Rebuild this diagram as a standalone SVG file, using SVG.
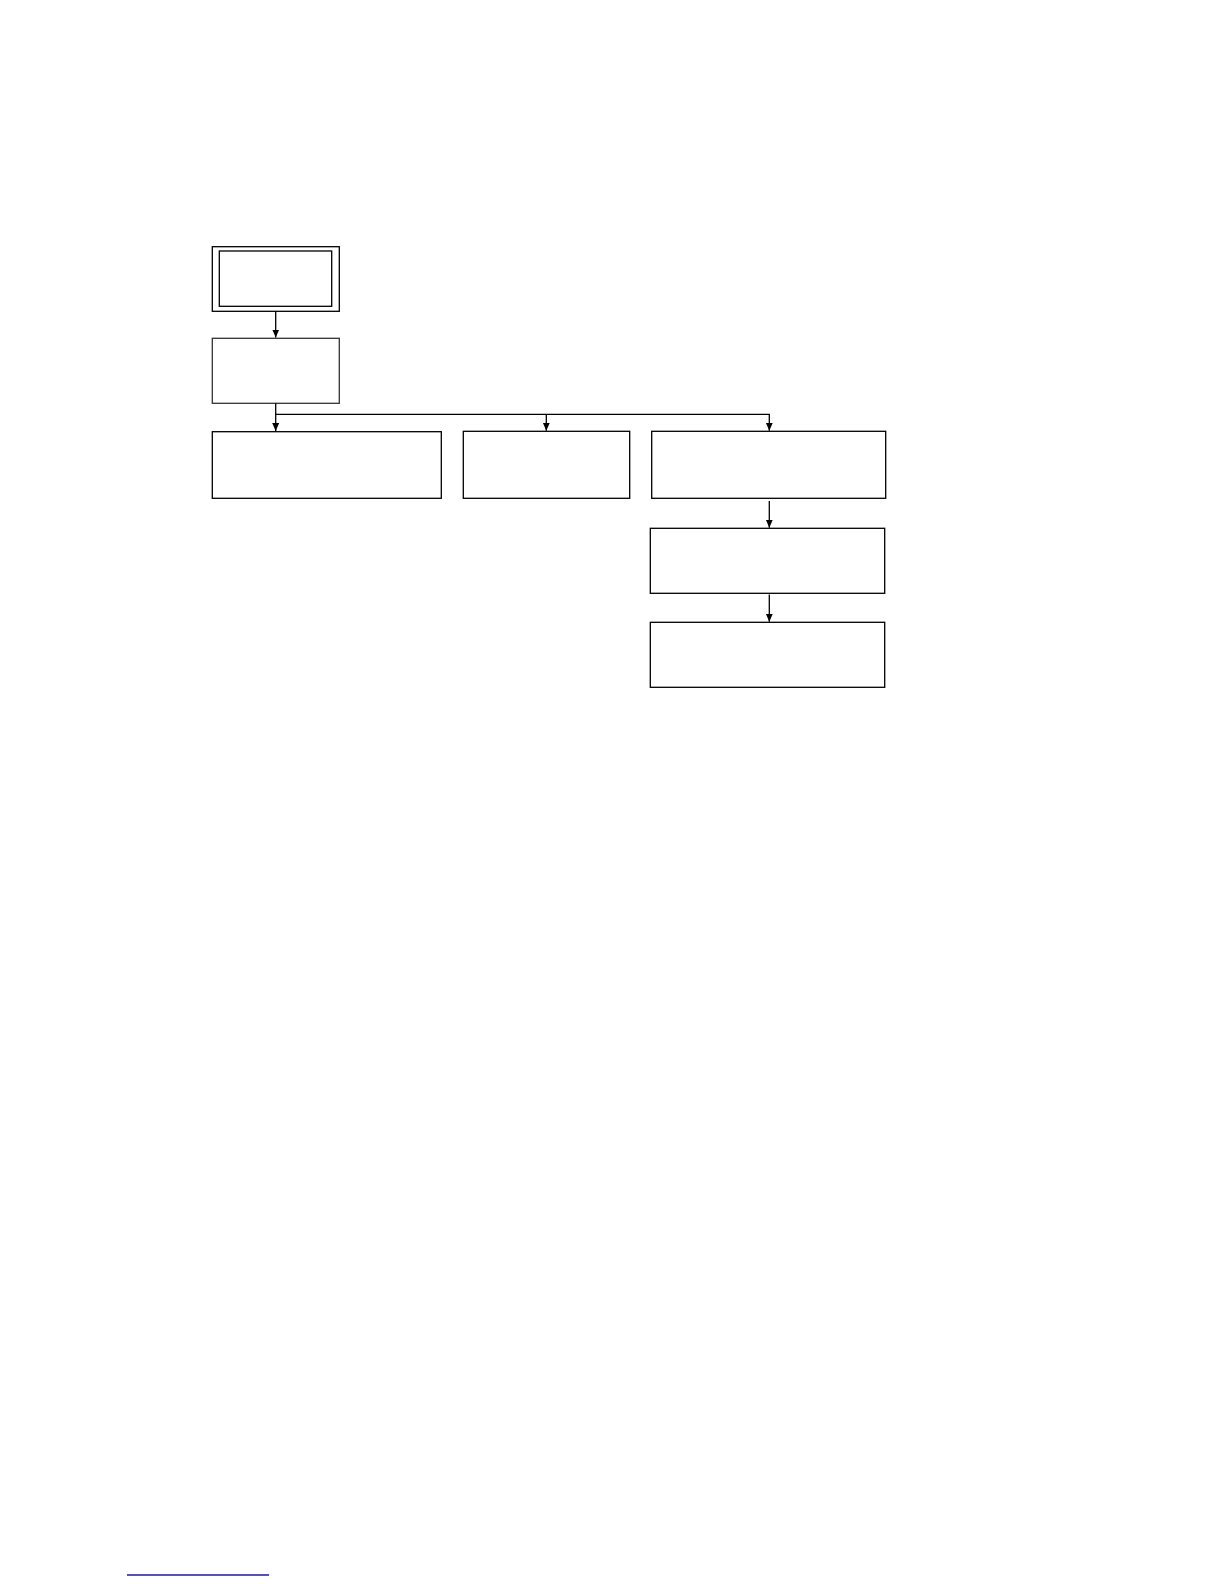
<svg xmlns="http://www.w3.org/2000/svg" width="1224" height="1584" viewBox="0 0 1224 1584">
<defs>
<style>
.box{fill:#fff;stroke:#000;stroke-width:1.3}
.conn{fill:none;stroke:#000;stroke-width:1.3}
</style>
<marker id="ah" viewBox="0 0 8 10" refX="8" refY="5" markerWidth="8" markerHeight="10" markerUnits="userSpaceOnUse" orient="auto">
<path d="M0,1.5 L8,5 L0,8.5 Z" fill="#000"/>
</marker>
</defs>
<rect width="1224" height="1584" fill="#fff"/>
<g id="node-start">
<rect class="box" x="212.3" y="246.7" width="127" height="64.6"/>
<rect class="box" x="219.3" y="251" width="112.4" height="55.3"/>
</g>
<g id="node-2"><rect class="box" x="212.3" y="338.3" width="127" height="65" style="stroke:#333"/></g>
<g id="node-3"><rect class="box" x="212.3" y="431.7" width="229" height="66.6"/></g>
<g id="node-4"><rect class="box" x="463.3" y="431.3" width="166.4" height="67"/></g>
<g id="node-5"><rect class="box" x="651.7" y="431.3" width="234" height="67"/></g>
<g id="node-6"><rect class="box" x="650.3" y="528.3" width="234.4" height="65"/></g>
<g id="node-7"><rect class="box" x="650.3" y="622.3" width="234.4" height="65"/></g>
<g id="connectors">
<path class="conn" d="M275.7,311.3 V337.5" marker-end="url(#ah)"/>
<path class="conn" d="M275.7,403.3 V431" marker-end="url(#ah)"/>
<path class="conn" d="M275.7,414.3 H769.3 V430.7" marker-end="url(#ah)"/>
<path class="conn" d="M546.3,414.3 V430.7" marker-end="url(#ah)"/>
<path class="conn" d="M769.3,501 V527.7" marker-end="url(#ah)"/>
<path class="conn" d="M769.3,594.5 V621.7" marker-end="url(#ah)"/>
</g>
<line x1="127" y1="1575" x2="269" y2="1575" stroke="#1a1a99" stroke-width="1.5"/>
</svg>
